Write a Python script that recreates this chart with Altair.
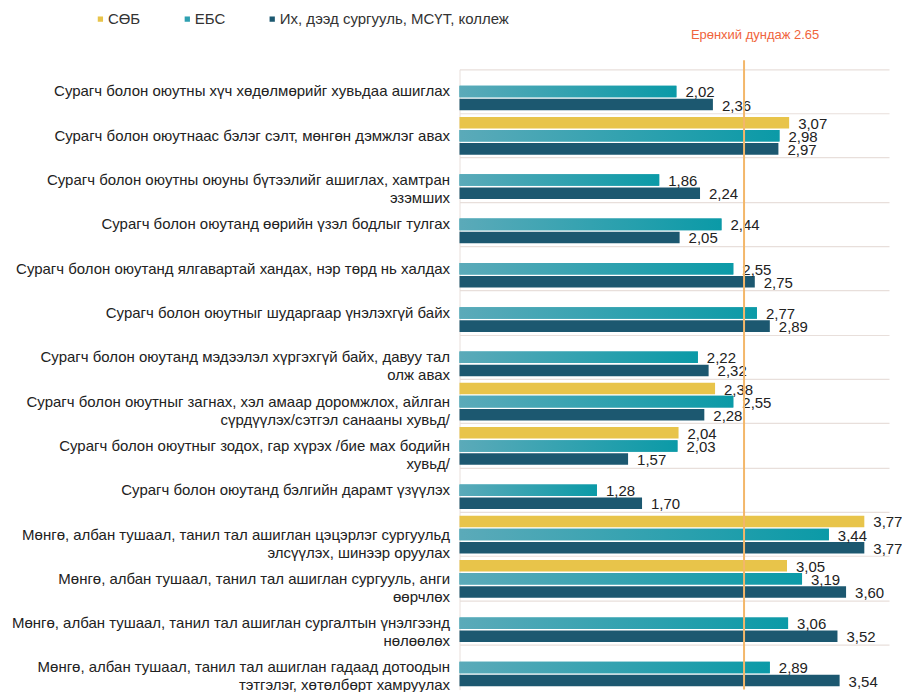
import altair as alt
import pandas as pd

categories = [
    "Сурагч болон оюутны хүч хөдөлмөрийг хувьдаа ашиглах",
    "Сурагч болон оюутнаас бэлэг сэлт, мөнгөн дэмжлэг авах",
    "Сурагч болон оюутны оюуны бүтээлийг ашиглах, хамтран|эзэмших",
    "Сурагч болон оюутанд өөрийн үзэл бодлыг тулгах",
    "Сурагч болон оюутанд ялгавартай хандах, нэр төрд нь халдах",
    "Сурагч болон оюутныг шударгаар үнэлэхгүй байх",
    "Сурагч болон оюутанд мэдээлэл хүргэхгүй байх, давуу тал|олж авах",
    "Сурагч болон оюутныг загнах, хэл амаар доромжлох, айлган|сүрдүүлэх/сэтгэл санааны хувьд/",
    "Сурагч болон оюутныг зодох, гар хүрэх /бие мах бодийн|хувьд/",
    "Сурагч болон оюутанд бэлгийн дарамт үзүүлэх",
    "Мөнгө, албан тушаал, танил тал ашиглан цэцэрлэг сургуульд|элсүүлэх, шинээр оруулах",
    "Мөнгө, албан тушаал, танил тал ашиглан сургууль, анги|өөрчлөх",
    "Мөнгө, албан тушаал, танил тал ашиглан сургалтын үнэлгээнд|нөлөөлөх",
    "Мөнгө, албан тушаал, танил тал ашиглан гадаад дотоодын|тэтгэлэг, хөтөлбөрт хамруулах",
]
series_names = ["СӨБ", "ЕБС", "Их, дээд сургууль, МСҮТ, коллеж"]
sob = [None, 3.07, None, None, None, None, None, 2.38, 2.04, None, 3.77, 3.05, None, None]
ebs = [2.02, 2.98, 1.86, 2.44, 2.55, 2.77, 2.22, 2.55, 2.03, 1.28, 3.44, 3.19, 3.06, 2.89]
ikh = [2.36, 2.97, 2.24, 2.05, 2.75, 2.89, 2.32, 2.28, 1.57, 1.70, 3.77, 3.60, 3.52, 3.54]
colors = ["#E8C44A", "#2FA0B1", "#1C5870"]
average = [2.65]
average_label = ["Ерөнхий дундаж 2.65"]

rows = []
for i, c in enumerate(categories):
    for s, vals in zip(series_names, [sob, ebs, ikh]):
        if vals[i] is not None:
            rows.append({"cat": c, "series": s, "value": vals[i]})
df = pd.DataFrame(rows)
avg_df = pd.DataFrame({"avg": average, "label": average_label})

FONT = "Liberation Sans"

y_enc = alt.Y("cat:N", sort=categories, scale=alt.Scale(paddingInner=0, paddingOuter=0),
              axis=alt.Axis(title=None, ticks=False, labelPadding=10, labelFontSize=15,
                            labelFont=FONT, labelColor="#222222", labelLimit=500,
                            labelLineHeight=18, labelExpr="split(datum.label, '|')",
                            grid=True, bandPosition=0, gridColor="#E8DFDB",
                            domainColor="#E8DFDB", gridWidth=1.2))
yoff = alt.YOffset("series:N", sort=series_names,
                   scale=alt.Scale(domain=series_names, paddingInner=0.12, paddingOuter=0.25))
x_enc = alt.X("value:Q", scale=alt.Scale(domain=[0, 4], nice=False), axis=None)

base = alt.Chart(df)

bars = base.mark_bar().encode(
    y=y_enc, yOffset=yoff, x=x_enc,
    color=alt.Color("series:N", sort=series_names,
                    scale=alt.Scale(domain=series_names, range=colors),
                    legend=alt.Legend(title=None, orient="none", direction="horizontal",
                                      legendX=-367, legendY=-58, symbolType="square",
                                      symbolSize=28, labelFont=FONT, labelFontSize=15,
                                      labelColor="#333333", labelOffset=0, labelLimit=400,
                                      columnPadding=39, padding=0)),
)

grad = alt.LinearGradient(gradient="linear", x1=0, x2=1, y1=0, y2=0,
                          stops=[alt.GradientStop(color="#5BAAB9", offset=0),
                                 alt.GradientStop(color="#0B9AA7", offset=1)])
ebs_bars = base.transform_filter(alt.datum.series == "ЕБС").mark_bar(color=grad).encode(
    y=alt.Y("cat:N", sort=categories), yOffset=yoff, x=x_enc)

labels = base.transform_calculate(
    txt="replace(format(datum.value, '.2f'), '.', ',')"
).mark_text(align="left", baseline="middle", dx=9, dy=1, font=FONT, fontSize=15,
            color="#222222").encode(
    y=alt.Y("cat:N", sort=categories), yOffset=yoff, x=x_enc, text="txt:N")

avg_rule = alt.Chart(avg_df).mark_rule(color="#F3B76A", strokeWidth=2).encode(
    x=alt.X("avg:Q", scale=alt.Scale(domain=[0, 4], nice=False), axis=None),
    y=alt.value(-9), y2=alt.value(621))

avg_text = alt.Chart(avg_df).mark_text(align="center", baseline="middle", dx=11,
                                       font=FONT, fontSize=13, color="#F0643C").encode(
    x=alt.X("avg:Q", scale=alt.Scale(domain=[0, 4], nice=False), axis=None),
    y=alt.value(-34), text="label:N")

chart = alt.layer(bars, ebs_bars, labels, avg_rule, avg_text).properties(
    width=430, height=621,
    autosize=alt.AutoSizeParams(type="none"),
    padding={"left": 452, "top": 61, "right": 13, "bottom": 2},
).configure_view(stroke=None)

chart.save("out.html", embed_options={"renderer": "svg", "actions": False})
